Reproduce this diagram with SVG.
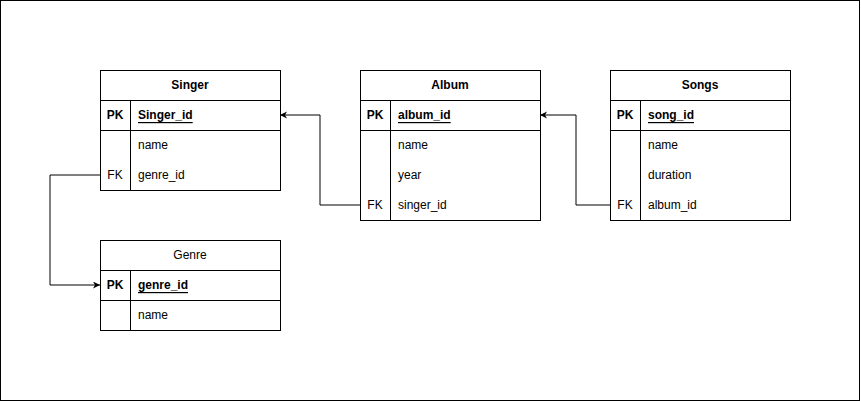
<svg xmlns="http://www.w3.org/2000/svg" width="861" height="402" viewBox="0 0 861 402">
<style>
.box{fill:#fff;stroke:#000;stroke-width:1}
.ln{stroke:#000;stroke-width:1;fill:none}
text{font-family:"Liberation Sans",Arial,sans-serif;font-size:12px;fill:#000;dominant-baseline:central}
.t{font-weight:bold;text-anchor:middle}
.tn{text-anchor:middle}
.k{font-weight:bold;text-anchor:middle}
.kn{text-anchor:middle}
.pf{font-weight:bold;text-decoration:underline}
.conn{stroke:#000;stroke-width:1;fill:none;marker-end:url(#arr)}
</style>
<defs>
<marker id="arr" markerWidth="10" markerHeight="10" refX="7" refY="3.5" orient="auto" markerUnits="userSpaceOnUse">
<path d="M0,0 L7,3.5 L0,7 L2,3.5 Z" fill="#000"/>
</marker>
</defs>
<rect x="0.5" y="0.5" width="859" height="400" fill="#fff" stroke="#000" stroke-width="1"/>
<g id="connectors">
<path class="conn" d="M100,175 H50 V285 H100"/>
<path class="conn" d="M360,205 H320 V115 H280"/>
<path class="conn" d="M610,205 H576 V115 H540"/>
</g>
<g id="singer">
<rect class="box" x="100.5" y="70.5" width="180" height="120"/>
<path class="ln" d="M100.5,100.5 H280.5 M100.5,130.5 H280.5 M130.5,100.5 V190.5"/>
<text class="t" x="190" y="85">Singer</text>
<text class="k" x="115" y="115">PK</text>
<text class="pf" x="138" y="115">Singer_id</text>
<text x="138" y="145">name</text>
<text class="kn" x="115" y="175">FK</text>
<text x="138" y="175">genre_id</text>
</g>
<g id="album">
<rect class="box" x="360.5" y="70.5" width="180" height="150"/>
<path class="ln" d="M360.5,100.5 H540.5 M360.5,130.5 H540.5 M390.5,100.5 V220.5"/>
<text class="t" x="450" y="85">Album</text>
<text class="k" x="375" y="115">PK</text>
<text class="pf" x="398" y="115">album_id</text>
<text x="398" y="145">name</text>
<text x="398" y="175">year</text>
<text class="kn" x="375" y="205">FK</text>
<text x="398" y="205">singer_id</text>
</g>
<g id="songs">
<rect class="box" x="610.5" y="70.5" width="180" height="150"/>
<path class="ln" d="M610.5,100.5 H790.5 M610.5,130.5 H790.5 M640.5,100.5 V220.5"/>
<text class="t" x="700" y="85">Songs</text>
<text class="k" x="625" y="115">PK</text>
<text class="pf" x="648" y="115">song_id</text>
<text x="648" y="145">name</text>
<text x="648" y="175">duration</text>
<text class="kn" x="625" y="205">FK</text>
<text x="648" y="205">album_id</text>
</g>
<g id="genre">
<rect class="box" x="100.5" y="240.5" width="180" height="90"/>
<path class="ln" d="M100.5,270.5 H280.5 M100.5,300.5 H280.5 M130.5,270.5 V330.5"/>
<text class="tn" x="190" y="255">Genre</text>
<text class="k" x="115" y="285">PK</text>
<text class="pf" x="138" y="285">genre_id</text>
<text x="138" y="315">name</text>
</g>
</svg>
